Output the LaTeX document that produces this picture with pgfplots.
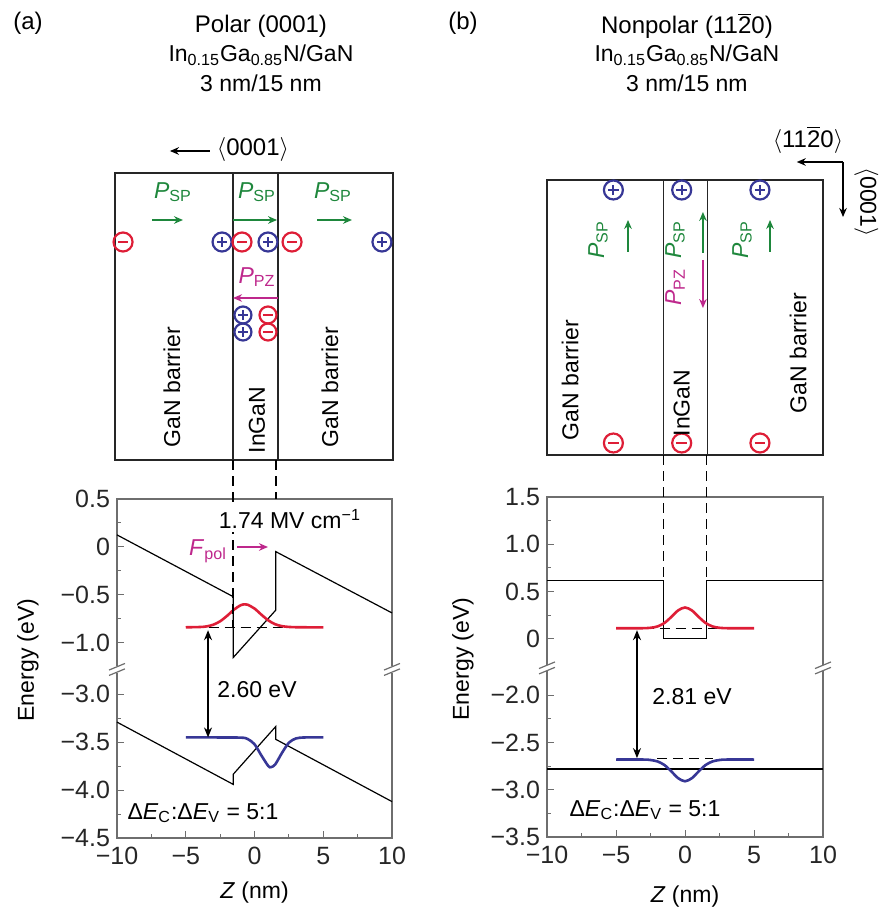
\documentclass[border=0pt]{standalone}
\usepackage{pgfplots}
\pgfplotsset{compat=1.18}
\usetikzlibrary{arrows.meta}
\usepackage{fontspec}
\setmainfont{Liberation Sans}
\definecolor{cred}{RGB}{222,30,55}
\definecolor{cblue}{RGB}{55,55,150}
\definecolor{cgreen}{RGB}{30,135,60}
\definecolor{cmag}{RGB}{190,40,140}
\definecolor{axgray}{RGB}{110,110,110}
\newcommand{\fs}[1]{\fontsize{#1}{#1}\selectfont}
\newcommand{\chm}[3][9.5pt]{\node[circle,draw=cred,line width=1.1pt,minimum size=#1,inner sep=0pt] (q) at (axis cs:#2,#3) {};
  \draw[cred,line width=1.1pt] ([xshift=-2.6pt]q.center) -- ([xshift=2.6pt]q.center);}
\newcommand{\chp}[3][9.5pt]{\node[circle,draw=cblue,line width=1.1pt,minimum size=#1,inner sep=0pt] (q) at (axis cs:#2,#3) {};
  \draw[cblue,line width=1.1pt] ([xshift=-2.6pt]q.center) -- ([xshift=2.6pt]q.center) ([yshift=-2.6pt]q.center) -- ([yshift=2.6pt]q.center);}
\newcommand{\brk}[2]{\fill[white] ([shift={(-4pt,-1.7pt)}]axis cs:#1,#2) rectangle ([shift={(4pt,1.7pt)}]axis cs:#1,#2);
  \draw[axgray,line width=0.6pt] ([shift={(-4pt,-0.3pt)}]axis cs:#1,#2) -- ([shift={(4pt,3pt)}]axis cs:#1,#2) ([shift={(-4pt,-3pt)}]axis cs:#1,#2) -- ([shift={(4pt,0.3pt)}]axis cs:#1,#2);}
\tikzset{
  sch/.style={black!85, line width=0.8pt},
  dsh/.style={black, line width=0.7pt, dash pattern=on 5pt off 3pt},
  arr/.style={-{Stealth[length=4.5pt,width=3.8pt]}, line width=0.7pt}
}
\pgfplotsset{
  band/.style={scale only axis, anchor=south west, xmin=-10, xmax=10, clip=false,
    axis line style={axgray,line width=0.6pt}, tick style={axgray,line width=0.5pt},
    tick align=inside, xtick pos=bottom, ytick pos=left, major tick length=3.5pt, minor tick length=2pt,
    xtick={-10,-5,0,5,10}, xticklabels={−10,−5,0,5,10}, minor xtick={-7.5,-2.5,2.5,7.5},
    tick label style={font=\fs{12.5}, text=black!85}, xticklabel style={yshift=-1pt}},
  ovl/.style={scale only axis, anchor=south west, hide axis, clip=false, xmin=-10, xmax=10,
    ymin=0, ymax=913, y dir=reverse, height=456.5pt}
}
\begin{document}
\begin{tikzpicture}
\useasboundingbox (0,0) rectangle (442pt,456.5pt);
% ---------------- panel (a) band diagram ----------------
\begin{axis}[band, at={(58.5pt,37.5pt)}, width=137.5pt, height=169.5pt, ymin=-3.04, ymax=0.5,
  ytick={0.5,0,-0.5,-1,-1.54,-2.04,-2.54,-3.04},
  yticklabels={0.5,0,−0.5,−1.0,−3.0,−3.5,−4.0,−4.5},
  minor ytick={0.25,-0.25,-0.75,-1.79,-2.29,-2.79}]
\addplot[black, line width=0.6pt] coordinates {(-10,0.125) (-1.55,-0.52) (-1.55,-1.156) (1.55,-0.66) (1.55,-0.05) (10,-0.69)};
\addplot[black, line width=0.6pt, y filter/.expression={y+1.46}] coordinates {(-10,-3.29) (-1.55,-3.94) (-1.55,-3.835) (1.55,-3.335) (1.55,-3.47) (10,-4.12)};
\addplot[dsh] coordinates {(-4.5,-0.84) (4.5,-0.84)};
\addplot[cred, line width=1.3pt, smooth] coordinates {(-5,-0.84) (-4,-0.837) (-3.5,-0.831) (-3,-0.813) (-2.5,-0.777) (-2,-0.721) (-1.5,-0.656) (-1,-0.609) (-0.7,-0.600) (-0.5,-0.604) (0,-0.644) (0.5,-0.708) (1,-0.767) (1.5,-0.808) (2,-0.828) (2.5,-0.836) (3,-0.839) (4,-0.84) (5,-0.84)};
\addplot[cblue, line width=1.3pt, smooth, y filter/.expression={y+1.46}] coordinates {(-5,-3.45) (-3,-3.45) (-1,-3.452) (-0.5,-3.466) (0,-3.521) (0.5,-3.638) (1,-3.748) (1.2,-3.76) (1.5,-3.733) (2,-3.611) (2.5,-3.505) (3,-3.461) (3.5,-3.451) (4,-3.45) (5,-3.45)};
\draw[{Stealth[length=5pt,width=4pt]}-{Stealth[length=5pt,width=4pt]}, line width=0.8pt] (axis cs:-3.38,-0.87) -- (axis cs:-3.38,-1.99);
\brk{-10}{-1.28}
\brk{10}{-1.28}
\end{axis}
% ---------------- panel (a) schematic / annotations ----------------
\begin{axis}[ovl, at={(58.5pt,0pt)}, width=137.5pt]
\node[font=\fs{12}] at (axis cs:-16.47,23) {(a)};
\node[font=\fs{12}] at (axis cs:0.47,26) {Polar (0001)};
\node[font=\fs{11.5}] at (axis cs:0.47,55) {In\textsubscript{0.15}Ga\textsubscript{0.85}N/GaN};
\node[font=\fs{11.5}] at (axis cs:0.47,83) {3 nm/15 nm};
\draw[arr] (axis cs:-3.24,151) -- (axis cs:-6.15,151);
\node[font=\fs{12}] at (axis cs:-0.11,150) {$\langle$0001$\rangle$};
\draw[sch] (axis cs:-10.15,173) rectangle (axis cs:10.07,460);
\draw[sch] (axis cs:-1.55,173) -- (axis cs:-1.55,460);
\draw[sch] (axis cs:1.7,173) -- (axis cs:1.7,460);
\node[font=\fs{11.5},text=cgreen] at (axis cs:-5.93,192) {\textit{P}\textsubscript{SP}};
\node[font=\fs{11.5},text=cgreen] at (axis cs:0.18,192) {\textit{P}\textsubscript{SP}};
\node[font=\fs{11.5},text=cgreen] at (axis cs:5.71,192) {\textit{P}\textsubscript{SP}};
\draw[arr,cgreen] (axis cs:-7.45,220) -- (axis cs:-5.2,220);
\draw[arr,cgreen] (axis cs:-1.56,220) -- (axis cs:1.64,220);
\draw[arr,cgreen] (axis cs:4.55,220) -- (axis cs:7.09,220);
\chm{-9.56}{242}
\chp{-2.36}{242}
\chm{-0.91}{242}
\chp{0.98}{242}
\chm{2.73}{242}
\chp{9.27}{242}
\node[font=\fs{11.5},text=cmag] at (axis cs:0.18,277) {\textit{P}\textsubscript{PZ}};
\draw[arr,cmag] (axis cs:1.71,298) -- (axis cs:-1.56,298);
\chp[8.5pt]{-0.84}{315}
\chp[8.5pt]{-0.84}{332}
\chm[8.5pt]{0.98}{315}
\chm[8.5pt]{0.98}{332}
\node[rotate=90,font=\fs{11.5}] at (axis cs:-6.0,387) {GaN barrier};
\node[rotate=90,font=\fs{11.5}] at (axis cs:0.18,420) {InGaN};
\node[rotate=90,font=\fs{11.5}] at (axis cs:5.49,387) {GaN barrier};
\draw[dsh] (axis cs:-1.55,460) -- (axis cs:-1.55,627);
\draw[dsh] (axis cs:1.55,460) -- (axis cs:1.55,499);
\node[font=\fs{11.5},fill=white,inner sep=1.5pt] at (axis cs:2.58,519) {1.74 MV cm\textsuperscript{−1}};
\node[font=\fs{11.5},text=cmag] at (axis cs:-3.38,551) {\textit{F}\textsubscript{pol}};
\draw[arr,cmag] (axis cs:-1.27,547) -- (axis cs:0.98,547);
\node[font=\fs{11.5}] at (axis cs:0.18,690) {2.60 eV};
\node[font=\fs{11.5}] at (axis cs:-3.75,813) {Δ\textit{E}\textsubscript{C}:Δ\textit{E}\textsubscript{V} = 5:1};
\node[rotate=90,font=\fs{11.5}] at (axis cs:-16.47,660) {Energy (eV)};
\node[font=\fs{11.5}] at (axis cs:0,893) {\textit{Z} (nm)};
\end{axis}
% ---------------- panel (b) band diagram ----------------
\begin{axis}[band, at={(273.5pt,38pt)}, width=138pt, height=170pt, ymin=-2.1, ymax=1.5,
  ytick={1.5,1.0,0.5,0,-0.6,-1.1,-1.6,-2.1},
  yticklabels={1.5,1.0,0.5,0,−2.0,−2.5,−3.0,−3.5},
  minor ytick={1.25,0.75,0.25,-0.85,-1.35,-1.85}]
\addplot[black, line width=0.6pt] coordinates {(-10,0.62) (-1.55,0.62) (-1.55,0) (1.55,0) (1.55,0.62) (10,0.62)};
\addplot[black, line width=0.6pt, y filter/.expression={y+1.4}] coordinates {(-10,-2.78) (10,-2.78)};
\addplot[dsh] coordinates {(-3,0.11) (3,0.11)};
\addplot[cred, line width=1.3pt, smooth] coordinates {(-5,0.11) (-3.5,0.11) (-3,0.111) (-2.5,0.115) (-2,0.129) (-1.5,0.165) (-1,0.229) (-0.5,0.299) (0,0.33) (0.5,0.299) (1,0.229) (1.5,0.165) (2,0.129) (2.5,0.115) (3,0.111) (3.5,0.11) (5,0.11)};
\addplot[cblue, line width=1.3pt, smooth, y filter/.expression={y+1.4}] coordinates {(-5,-2.68) (-3,-2.68) (-2.5,-2.685) (-2,-2.6995) (-1.5,-2.737) (-1,-2.804) (-0.5,-2.877) (0,-2.91) (0.5,-2.877) (1,-2.804) (1.5,-2.737) (2,-2.6995) (2.5,-2.685) (3,-2.68) (5,-2.68)};
\addplot[dsh, y filter/.expression={y+1.4}] coordinates {(-2,-2.67) (2,-2.67)};
\draw[{Stealth[length=5pt,width=4pt]}-{Stealth[length=5pt,width=4pt]}, line width=0.8pt] (axis cs:-3.48,0.09) -- (axis cs:-3.48,-1.265);
\brk{-10}{-0.31}
\brk{10}{-0.31}
\end{axis}
% ---------------- panel (b) schematic / annotations ----------------
\begin{axis}[ovl, at={(273.5pt,0pt)}, width=138pt]
\node[font=\fs{12}] at (axis cs:-16.09,23) {(b)};
\node[font=\fs{12}] at (axis cs:0.14,26) {Nonpolar (11\ensuremath{\overline{\mbox{2}}}0)};
\node[font=\fs{11.5}] at (axis cs:0.14,55) {In\textsubscript{0.15}Ga\textsubscript{0.85}N/GaN};
\node[font=\fs{11.5}] at (axis cs:0.14,83) {3 nm/15 nm};
\node[font=\fs{12}] at (axis cs:8.91,140) {$\langle$11\ensuremath{\overline{\mbox{2}}}0$\rangle$};
\draw[arr] (axis cs:11.45,162) -- (axis cs:8.1,162);
\draw[arr] (axis cs:11.45,162) -- (axis cs:11.45,217);
\node[rotate=-90,font=\fs{11.5},inner sep=0pt] at (axis cs:13.15,202) {$\langle$0001$\rangle$};
\draw[sch] (axis cs:-10,180) rectangle (axis cs:10,455);
\draw[sch] (axis cs:-1.55,180) -- (axis cs:-1.55,455);
\draw[sch] (axis cs:1.62,180) -- (axis cs:1.62,455);
\chp{-5.19}{190}
\chp{-0.24}{190}
\chp{5.43}{190}
\chm{-5.19}{443}
\chm{-0.24}{443}
\chm{5.43}{443}
\node[rotate=90,font=\fs{11.5},text=cgreen] at (axis cs:-6.30,240) {\textit{P}\textsubscript{SP}};
\node[rotate=90,font=\fs{11.5},text=cgreen] at (axis cs:-0.72,240) {\textit{P}\textsubscript{SP}};
\node[rotate=90,font=\fs{11.5},text=cgreen] at (axis cs:4.13,240) {\textit{P}\textsubscript{SP}};
\draw[arr,cgreen] (axis cs:-4.13,252) -- (axis cs:-4.13,220);
\draw[arr,cgreen] (axis cs:1.30,253) -- (axis cs:1.30,212);
\draw[arr,cgreen] (axis cs:6.16,252) -- (axis cs:6.16,220);
\node[rotate=90,font=\fs{11.5},text=cmag] at (axis cs:-0.72,287) {\textit{P}\textsubscript{PZ}};
\draw[arr,cmag] (axis cs:1.30,260) -- (axis cs:1.30,308);
\node[rotate=90,font=\fs{11.5}] at (axis cs:-8.33,380) {GaN barrier};
\node[rotate=90,font=\fs{11.5}] at (axis cs:-0.24,403) {InGaN};
\node[rotate=90,font=\fs{11.5}] at (axis cs:8.19,353) {GaN barrier};
\draw[dsh] (axis cs:-1.55,455) -- (axis cs:-1.55,580);
\draw[dsh] (axis cs:1.55,455) -- (axis cs:1.55,580);
\node[font=\fs{11.5}] at (axis cs:0.51,697) {2.81 eV};
\node[font=\fs{11.5}] at (axis cs:-2.9,810) {Δ\textit{E}\textsubscript{C}:Δ\textit{E}\textsubscript{V} = 5:1};
\node[rotate=90,font=\fs{11.5}] at (axis cs:-16.09,659) {Energy (eV)};
\node[font=\fs{11.5}] at (axis cs:0,897) {\textit{Z} (nm)};
\end{axis}
\end{tikzpicture}
\end{document}
